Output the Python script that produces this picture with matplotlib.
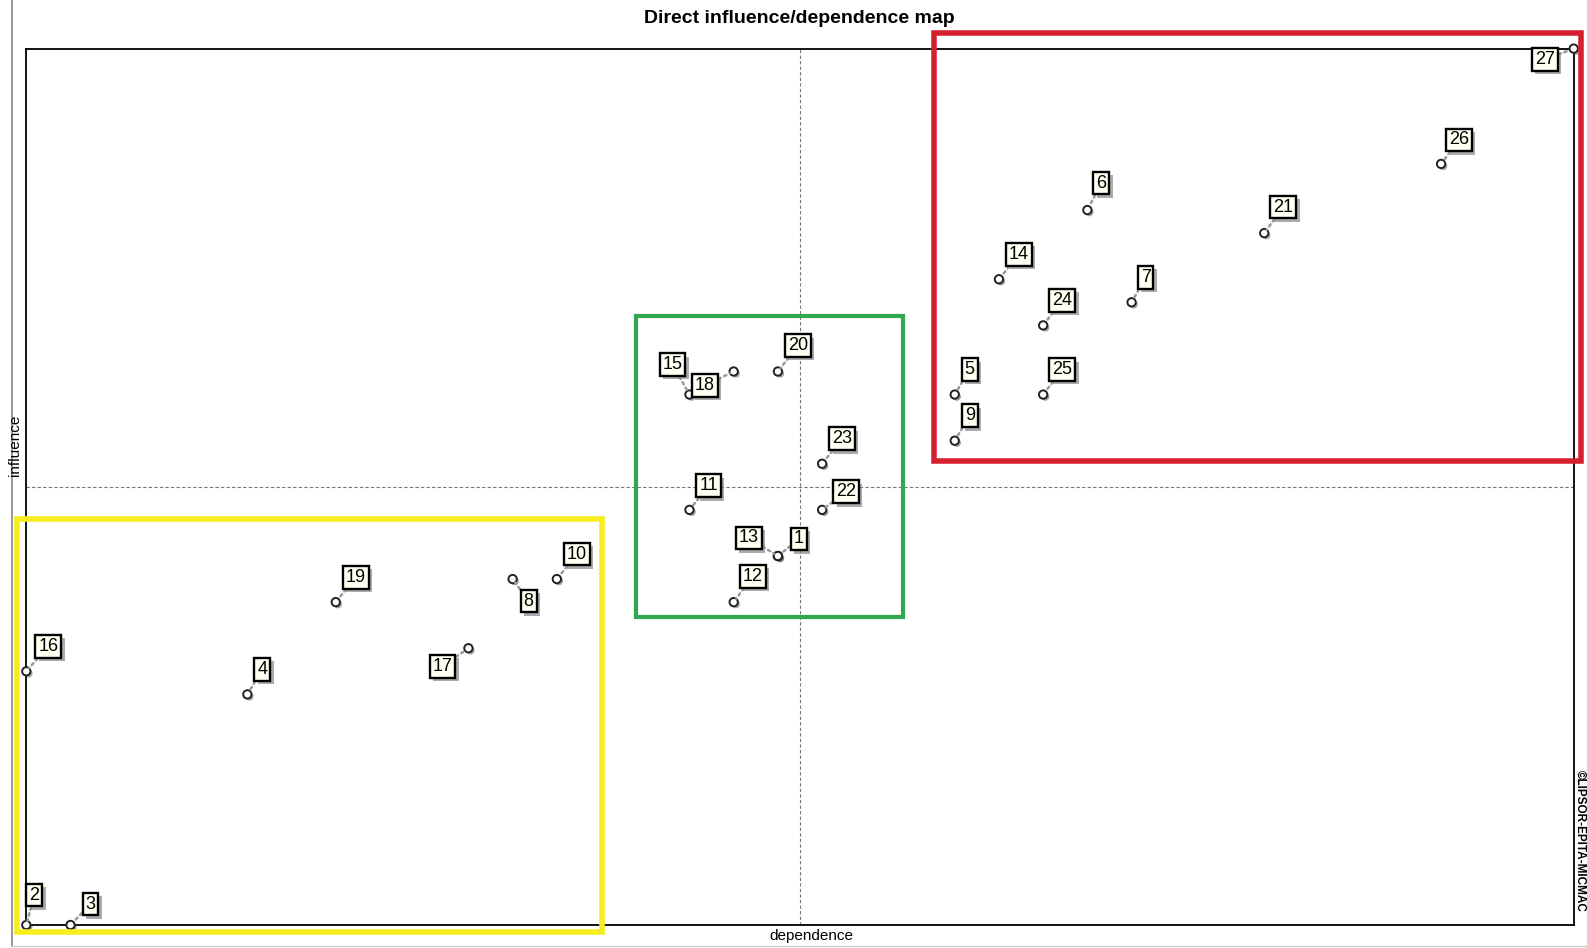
import matplotlib.pyplot as plt
import matplotlib.patheffects as pe
from matplotlib.patches import Rectangle
from matplotlib.lines import Line2D

# variable ids with direct dependence (x) / influence (y)
var_ids = [27, 26, 6, 21, 14, 7, 24, 5, 25, 9, 15, 18, 20, 23, 22, 11,
           13, 1, 12, 10, 8, 19, 17, 16, 4, 2, 3]
dependence = [35, 32, 24, 28, 22, 25, 23, 21, 23, 21, 15, 16, 17, 18, 18, 15,
              17, 17, 16, 12, 11, 7, 10, 0, 5, 0, 1]
influence = [38, 33, 31, 30, 28, 27, 26, 23, 23, 21, 23, 24, 24, 20, 18, 18,
             16, 16, 14, 15, 15, 14, 12, 11, 10, 0, 0]

# label placement (pixels from the point)
label_offsets = {
    27: (-29, -11), 26: (18, 24), 6: (14, 27), 21: (19, 26), 14: (20, 25),
    7: (14, 25), 24: (19, 25), 5: (15, 25), 25: (19, 25), 9: (15, 25),
    15: (-17, 30), 18: (-29, -14), 20: (20, 26), 23: (20, 25), 22: (24, 18),
    11: (19, 24), 13: (-29, 18), 1: (21, 17), 12: (19, 26), 10: (20, 25),
    8: (16, -22), 19: (20, 25), 17: (-26, -18), 16: (22, 25), 4: (15, 25),
    2: (8, 30), 3: (20, 21),
}

# highlighted groups (x0, y0, x1, y1) in data units
groups = [
    ((20.53, 20.10, 35.17, 38.66), "#d7202f", 4),
    ((13.78, 13.34, 19.82, 26.42), "#2fa84f", 3),
    ((-0.21, -0.30, 13.02, 17.61), "#f7ec1c", 4),
]

x_max, y_max = 35, 38

fig = plt.figure(figsize=(15.87, 9.48), dpi=100)
ax = fig.add_axes([0.01657, 0.02426, 0.97505, 0.92447])
ax.set_xlim(0, x_max)
ax.set_ylim(0, y_max)
ax.set_xticks([])
ax.set_yticks([])
for s in ax.spines.values():
    s.set_linewidth(1.3)

ax.axvline(x_max / 2, color="#777777", lw=0.8, ls=(0, (3, 2)))
ax.axhline(y_max / 2, color="#777777", lw=0.8, ls=(0, (3, 2)))

narrow = ["Liberation Sans Narrow", "Liberation Sans", "DejaVu Sans"]
arial = ["Liberation Sans", "DejaVu Sans"]
shadow = [pe.SimplePatchShadow(offset=(2.5, -2.5), shadow_rgbFace="#888888", alpha=0.7), pe.Normal()]

ax.scatter(dependence, influence, s=36, facecolor="white", edgecolor="#222222",
           linewidth=1.4, zorder=5, clip_on=False,
           path_effects=[pe.SimplePatchShadow(offset=(1.5, -1.5), alpha=0.5), pe.Normal()])

for vid, xv, yv in zip(var_ids, dependence, influence):
    dx, dy = label_offsets[vid]
    t = ax.annotate(str(vid), (xv, yv), xytext=(dx, dy), textcoords="offset pixels",
                    ha="center", va="center", fontsize=13, family=narrow, zorder=6,
                    bbox=dict(boxstyle="square,pad=0.16", fc="#fffff2", ec="black", lw=1.7),
                    arrowprops=dict(arrowstyle="-", ls=(0, (1, 1.5)), color="#999999",
                                    lw=1.8, shrinkA=0, shrinkB=3),
                    annotation_clip=False)
    t.get_bbox_patch().set_path_effects(shadow)

for (x0, y0, x1, y1), col, lw in groups:
    ax.add_patch(Rectangle((x0, y0), x1 - x0, y1 - y0, fill=False, ec=col,
                           lw=lw, clip_on=False, zorder=7))

fig.text(0.5034, 0.981, "Direct influence/dependence map", ha="center", va="center",
         fontsize=14, fontweight="bold", family=narrow)
fig.text(0.5113, 0.0127, "dependence", ha="center", va="center", fontsize=11, family=arial)
fig.text(0.0095, 0.53, "influence", ha="center", va="center", fontsize=11,
         rotation=90, family=arial)
fig.text(0.9957, 0.113, "\u00a9LIPSOR-EPITA-MICMAC", ha="center", va="center",
         fontsize=8.5, fontweight="bold", rotation=270, family=narrow)

# outer frame lines
fig.add_artist(Line2D([12 / 1587, 12 / 1587], [2 / 948, 1], color="#888888", lw=1.2))
fig.add_artist(Line2D([12 / 1587, 1], [2 / 948, 2 / 948], color="#cccccc", lw=1.0))

fig.savefig("out.png", dpi=100)
